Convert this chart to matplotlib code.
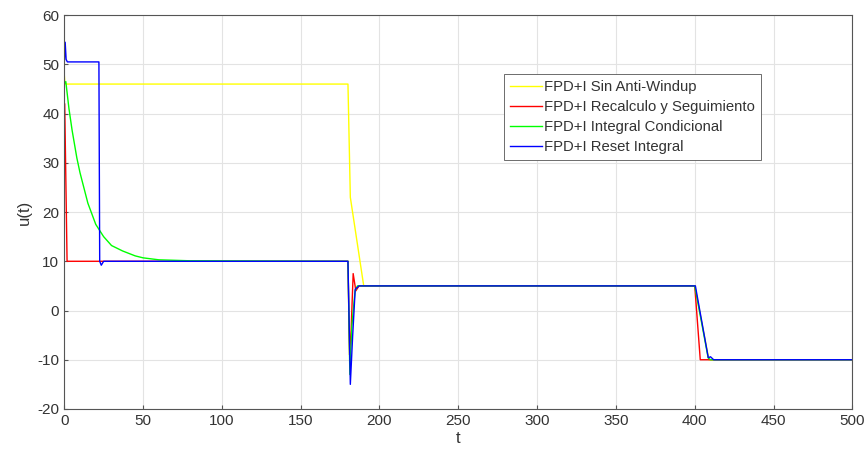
import matplotlib.pyplot as plt

plt.rcParams['font.family'] = ['Liberation Sans', 'DejaVu Sans']
plt.rcParams['axes.unicode_minus'] = False

# values (t, u)
t_sin = [0, 0.5, 180, 181.5, 190, 400, 409, 500]
u_sin = [48, 46, 46, 23, 5, 5, -10, -10]

t_rec = [0, 0.3, 1.8, 180, 181, 182, 183.3, 185, 187, 400, 403.5, 500]
u_rec = [42, 42, 10, 10, -9, -4, 7.5, 4, 5, 5, -10, -10]

t_con = [0, 1, 3, 5, 8, 10, 15, 20, 25, 30, 37, 45, 50, 60, 80, 180, 181.2, 182.5, 184.5, 186,
         400, 408.5, 410, 500]
u_con = [46, 46.5, 41, 36.6, 31, 28, 21.8, 17.5, 15, 13.2, 12.1, 11.1, 10.7, 10.3, 10.1, 10,
         -13, -3, 4, 5, 5, -9.6, -10, -10]

t_res = [0, 0.6, 1.2, 2, 22, 22.5, 23.5, 25, 180, 181.5, 183, 184.6, 187, 400.4, 408.6, 410,
         412, 500]
u_res = [50, 54.5, 51, 50.5, 50.5, 10, 9.2, 10, 10, -15, -5, 4.3, 5, 5, -9.6, -9.4, -10, -10]

labels = ["FPD+I Sin Anti-Windup", "FPD+I Recalculo y Seguimiento",
          "FPD+I Integral Condicional", "FPD+I Reset Integral"]
colors = ["#ffff00", "#ff0000", "#00ff00", "#0000ff"]

fig = plt.figure(figsize=(8.68, 4.59), dpi=100)
ax = fig.add_axes([0.074, 0.109, 0.908, 0.858])

series = [(t_sin, u_sin), (t_rec, u_rec), (t_con, u_con), (t_res, u_res)]
for (t, u), lab, c in zip(series, labels, colors):
    ax.plot(t, u, color=c, lw=1.0, label=lab)

ax.set_xlim(0, 500)
ax.set_ylim(-20, 60)
ax.set_xticks(range(0, 501, 50))
ax.set_yticks(range(-20, 61, 10))
ax.grid(True, color="#e3e3e3", lw=0.8)
ax.set_axisbelow(True)
for s in ax.spines.values():
    s.set_color("#555555")
    s.set_linewidth(0.8)
ax.tick_params(colors="#555555", labelcolor="#333333", labelsize=11, direction="in", length=3)
ax.set_xlabel("t", fontsize=12, color="#333333", labelpad=2)
ax.set_ylabel("u(t)", fontsize=12, color="#333333", labelpad=4)

leg = ax.legend(loc="upper left", bbox_to_anchor=(0.548, 0.87), fontsize=10.7,
                handlelength=2.2, handletextpad=0.1, borderpad=0.4, labelspacing=0.42,
                frameon=True, fancybox=False, edgecolor="#555555", framealpha=1)
leg.get_frame().set_linewidth(0.6)
for txt in leg.get_texts():
    txt.set_color("#333333")

fig.savefig("out.png", dpi=100)
